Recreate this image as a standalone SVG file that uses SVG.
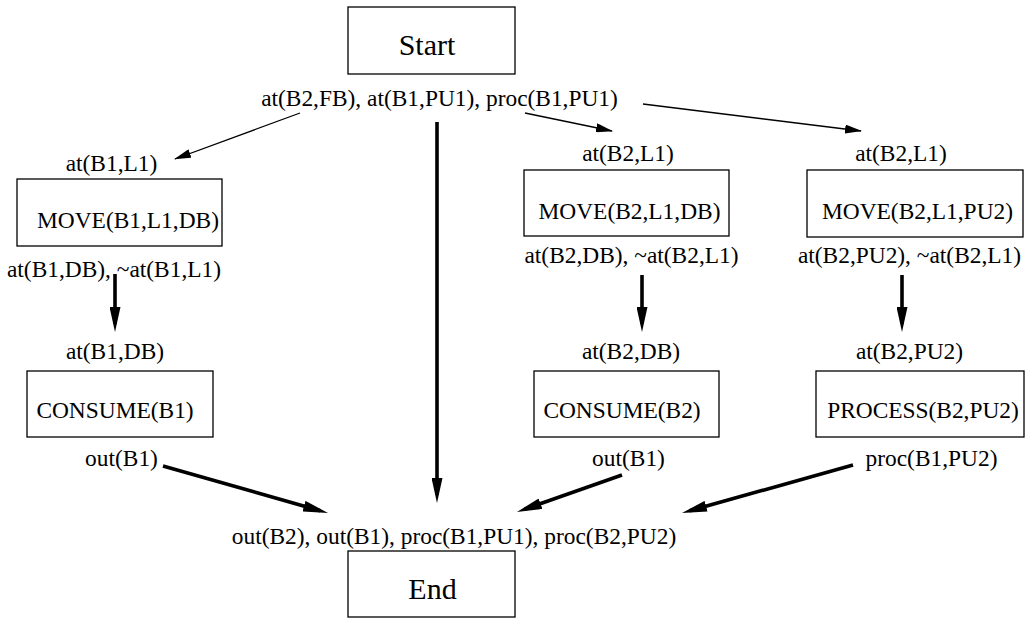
<svg xmlns="http://www.w3.org/2000/svg" width="1026" height="618" viewBox="0 0 1026 618">
<style>
text{font-family:"Liberation Serif","Times New Roman",serif;font-size:23.4px;fill:#000;text-anchor:middle}
.big{font-size:30px}
.box{fill:#fff;stroke:#000;stroke-width:1.3}
.thin{stroke:#000;stroke-width:1.3;fill:none}
.thick{stroke:#000;stroke-width:3.6;fill:none}
</style>
<defs>
<marker id="ah" markerUnits="userSpaceOnUse" markerWidth="17" markerHeight="9" refX="16" refY="4.5" orient="auto">
<path d="M0,0 L17,4.5 L0,9 z" fill="#000"/>
</marker>
<marker id="ahb" markerUnits="userSpaceOnUse" markerWidth="25" markerHeight="11" refX="17" refY="5.5" orient="auto">
<path d="M0,0 L25,5.5 L0,11 z" fill="#000"/>
</marker>
</defs>
<rect width="1026" height="618" fill="#fff"/>
<g id="connectors">
<line class="thin" x1="300" y1="113" x2="175" y2="159" marker-end="url(#ah)"/>
<line class="thin" x1="525" y1="113" x2="612" y2="131" marker-end="url(#ah)"/>
<line class="thin" x1="643" y1="104" x2="861" y2="131" marker-end="url(#ah)"/>
<line class="thick" x1="437" y1="122" x2="437" y2="495" marker-end="url(#ahb)"/>
<line class="thick" x1="115" y1="274" x2="115" y2="324" marker-end="url(#ahb)"/>
<line class="thick" x1="642" y1="275" x2="642" y2="324" marker-end="url(#ahb)"/>
<line class="thick" x1="902" y1="275" x2="902" y2="324" marker-end="url(#ahb)"/>
<line class="thick" x1="163" y1="466" x2="320.3" y2="510.8" marker-end="url(#ahb)"/>
<line class="thick" x1="622" y1="475" x2="524.5" y2="509.3" marker-end="url(#ahb)"/>
<line class="thick" x1="853" y1="465" x2="689.7" y2="510.8" marker-end="url(#ahb)"/>
</g>
<g id="start">
<rect class="box" x="348" y="7" width="167" height="67"/>
<text class="big" x="427" y="55">Start</text>
<text x="439.5" y="106">at(B2,FB), at(B1,PU1), proc(B1,PU1)</text>
</g>
<g id="move-b1">
<text x="111.5" y="171">at(B1,L1)</text>
<rect class="box" x="17" y="179" width="205" height="67"/>
<text x="128" y="228">MOVE(B1,L1,DB)</text>
<text x="114" y="277">at(B1,DB), ~at(B1,L1)</text>
</g>
<g id="move-b2-db">
<text x="628" y="161">at(B2,L1)</text>
<rect class="box" x="524" y="170" width="205" height="66"/>
<text x="629.5" y="219">MOVE(B2,L1,DB)</text>
<text x="631.5" y="263">at(B2,DB), ~at(B2,L1)</text>
</g>
<g id="move-b2-pu2">
<text x="901" y="161">at(B2,L1)</text>
<rect class="box" x="807" y="170" width="216" height="67"/>
<text x="917.5" y="219">MOVE(B2,L1,PU2)</text>
<text x="909.5" y="263">at(B2,PU2), ~at(B2,L1)</text>
</g>
<g id="consume-b1">
<text x="115" y="359">at(B1,DB)</text>
<rect class="box" x="27" y="371" width="186" height="66"/>
<text x="115" y="418">CONSUME(B1)</text>
<text x="121.5" y="466">out(B1)</text>
</g>
<g id="consume-b2">
<text x="631" y="359">at(B2,DB)</text>
<rect class="box" x="534" y="371" width="185" height="66"/>
<text x="622" y="418">CONSUME(B2)</text>
<text x="628.5" y="466">out(B1)</text>
</g>
<g id="process-b2">
<text x="909.5" y="359">at(B2,PU2)</text>
<rect class="box" x="816" y="371" width="208" height="66"/>
<text x="923" y="418">PROCESS(B2,PU2)</text>
<text x="931.5" y="466">proc(B1,PU2)</text>
</g>
<g id="end">
<text x="454" y="544">out(B2), out(B1), proc(B1,PU1), proc(B2,PU2)</text>
<rect class="box" x="348" y="551" width="167" height="66"/>
<text class="big" x="432.5" y="599">End</text>
</g>
</svg>
